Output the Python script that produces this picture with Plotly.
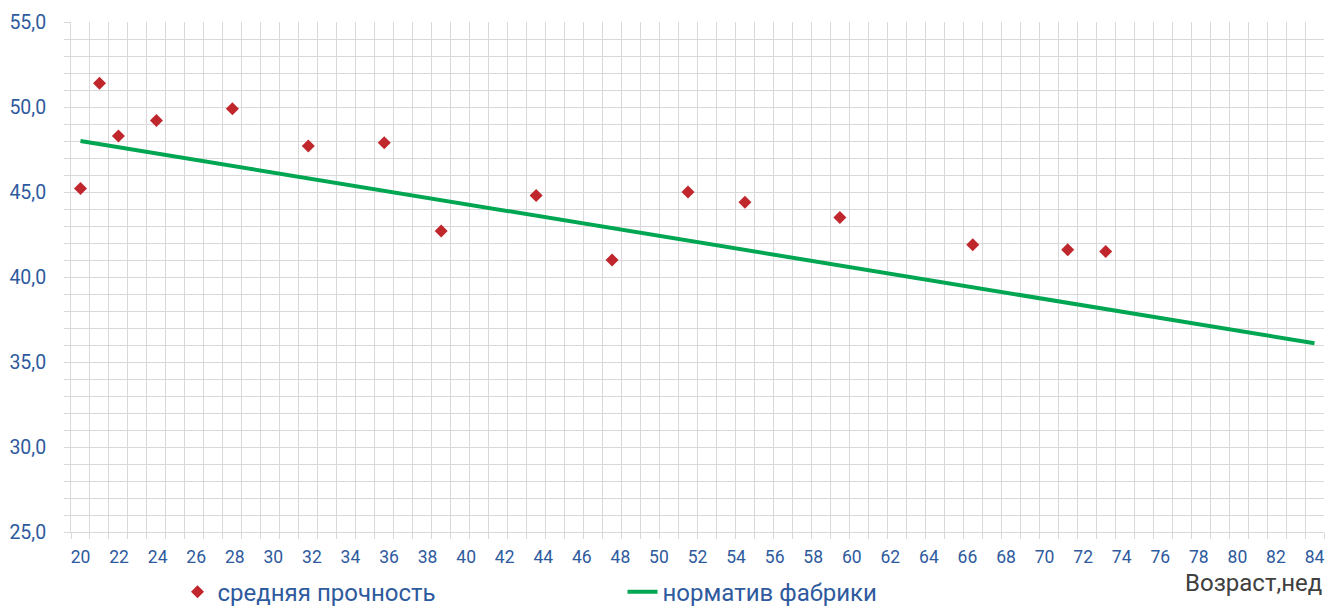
import plotly.graph_objects as go

# ---- data ----
weeks = [20, 21, 22, 24, 28, 32, 36, 39, 44, 48, 52, 55, 60, 67, 72, 74]
strength = [45.2, 51.4, 48.3, 49.2, 49.9, 47.7, 47.9, 42.7, 44.8, 41.0, 45.0, 44.4, 43.5, 41.9, 41.6, 41.5]
norm_weeks = [20, 85]
norm_values = [48.0, 36.1]
tick_first, tick_last, tick_step = 20, 84, 2

RED = "#C0272D"
GREEN = "#00A651"
BLUE = "#2E5A9E"
GRID = "#D9D9D9"
FONT = "Roboto"

fig = go.Figure()
fig.add_trace(go.Scatter(
    x=weeks, y=strength, mode="markers", name="средняя прочность",
    marker=dict(symbol="diamond", size=10, color=RED),
))
fig.add_trace(go.Scatter(
    x=norm_weeks, y=norm_values, mode="lines", name="норматив фабрики",
    line=dict(color=GREEN, width=4),
))

n_cells = norm_weeks[-1] - weeks[0] + 1
half = (tick_last - tick_first) / (n_cells - 1) / 2

fig.update_layout(
    width=1327, height=609,
    margin=dict(l=71, r=3, t=22, b=77, autoexpand=False),
    paper_bgcolor="white", plot_bgcolor="white",
    separators=", ",
    font=dict(family=FONT, color=BLUE),
    showlegend=True,
    legend=dict(
        orientation="h", x=0.085, xanchor="left", y=-0.118, yanchor="middle",
        font=dict(size=24, color=BLUE, family=FONT),
        entrywidth=400, itemwidth=30, bgcolor="rgba(0,0,0,0)",
        borderwidth=0, tracegroupgap=0,
    ),
    xaxis=dict(
        range=[weeks[0] - 0.5, norm_weeks[-1] + 0.5],
        tickmode="linear", tick0=weeks[0] - 0.5, dtick=1,
        showgrid=True, gridcolor=GRID, gridwidth=1,
        ticks="outside", ticklen=6, tickcolor=GRID, tickwidth=1,
        showticklabels=False, zeroline=False,
        showline=True, linecolor=GRID, linewidth=1,
    ),
    xaxis2=dict(
        overlaying="x", anchor="y", side="bottom",
        range=[tick_first - half, tick_last + half],
        tickmode="linear", tick0=tick_first, dtick=tick_step,
        showgrid=False, zeroline=False, showline=False, ticks="",
        tickfont=dict(size=17.5, color=BLUE, family=FONT),
        ticklabelstandoff=12,
    ),
    yaxis=dict(
        range=[25, 55], tickmode="linear", tick0=25, dtick=5,
        tickformat=".1f",
        showgrid=True, gridcolor=GRID, gridwidth=1,
        ticks="outside", ticklen=6, tickcolor=GRID, tickwidth=1,
        minor=dict(tickmode="linear", tick0=25, dtick=1, showgrid=True,
                   gridcolor=GRID, gridwidth=1,
                   ticks="outside", ticklen=6, tickcolor=GRID),
        zeroline=False, showline=True, linecolor=GRID, linewidth=1,
        tickfont=dict(size=19.5, color=BLUE, family=FONT),
        ticklabelstandoff=14,
    ),
    annotations=[dict(
        text="Возраст,нед", xref="paper", yref="paper", x=1.0, y=-0.1,
        xanchor="right", yanchor="middle", showarrow=False,
        font=dict(size=24, color="#404040", family=FONT),
    )],
)

# an invisible trace so the label axis is drawn
fig.add_trace(go.Scatter(x=[tick_first], y=[None], xaxis="x2", showlegend=False,
                         hoverinfo="skip", mode="markers"))

fig.write_html(
    "out.html",
    config={"displayModeBar": False},
    post_script="document.body.style.margin='0';document.body.style.overflow='hidden';",
)
